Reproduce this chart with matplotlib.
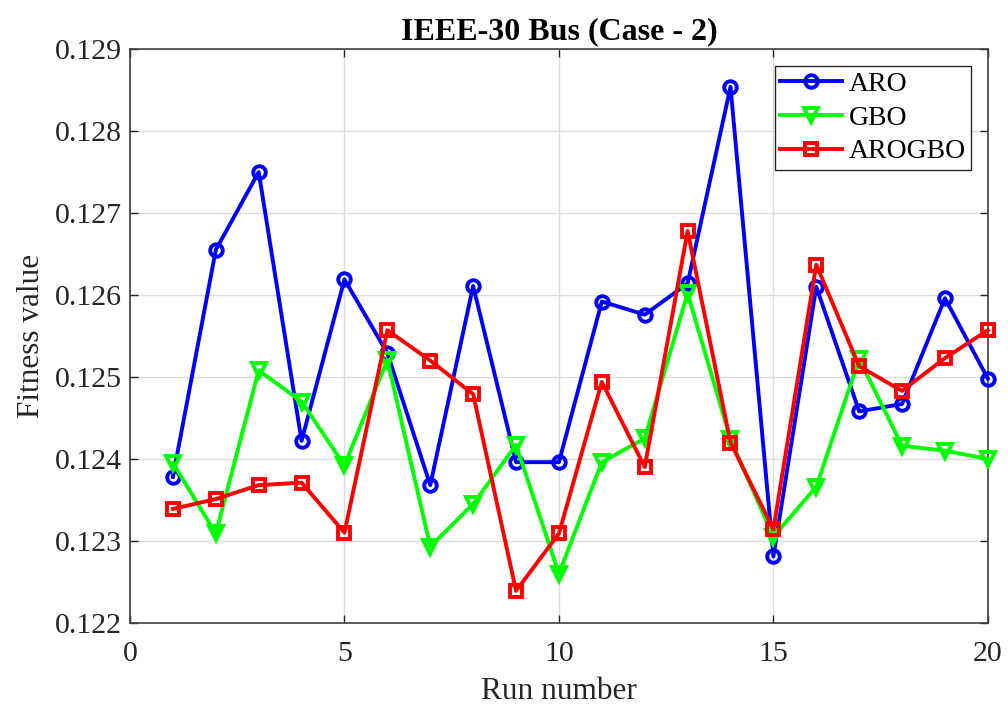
import matplotlib
matplotlib.use("Agg")
import matplotlib.pyplot as plt
import numpy as np

runs = list(range(1, 21))
aro = [0.12378, 0.12655, 0.12750, 0.12422, 0.12619, 0.12529, 0.12368, 0.12611, 0.12396, 0.12396,
       0.12592, 0.12576, 0.12614, 0.12854, 0.12281, 0.12610, 0.12458, 0.12467, 0.12596, 0.12498]
gbo = [0.12395, 0.12309, 0.12508, 0.12470, 0.12392, 0.12521, 0.12293, 0.12345, 0.12417, 0.12260,
       0.12396, 0.12425, 0.12602, 0.12424, 0.12305, 0.12366, 0.12522, 0.12416, 0.12410, 0.12400]
arogbo = [0.12339, 0.12351, 0.12368, 0.12371, 0.12310, 0.12557, 0.12520, 0.12479, 0.12239, 0.12309,
          0.12494, 0.12390, 0.12678, 0.12420, 0.12314, 0.12637, 0.12513, 0.12483, 0.12523, 0.12557]
xticks = [0, 5, 10, 15, 20]
yticks = [0.122, 0.123, 0.124, 0.125, 0.126, 0.127, 0.128, 0.129]

plt.rcParams['font.family'] = ['Liberation Serif', 'DejaVu Serif']

fig = plt.figure(figsize=(10.08, 7.11), dpi=100)
ax = fig.add_axes([0.129, 0.124, 0.851, 0.807])

lw = 2.8
ax.plot(runs, aro, color='#0000ff', lw=lw, marker='o', ms=9, mfc='none', mew=2.8, label='ARO', clip_on=False, zorder=3)
ax.plot(runs, gbo, color='#00ff00', lw=lw, marker='v', ms=10, mfc='none', mew=2.8, label='GBO', clip_on=False, zorder=3)
ax.plot(runs, arogbo, color='#ff0000', lw=lw, marker='s', ms=8, mfc='none', mew=2.8, label='AROGBO', clip_on=False, zorder=3)

ax.set_xlim(0, 20)
ax.set_ylim(0.122, 0.129)
ax.set_xticks(xticks)
ax.set_yticks(yticks)
ax.set_xticklabels([str(t) for t in xticks])
ax.set_yticklabels([f"{t:.3f}" for t in yticks])
ax.grid(True, color='#dcdcdc', lw=1)
ax.set_axisbelow(True)
ax.tick_params(direction='in', length=6, width=1, labelsize=21.5, colors='#262626',
               top=True, right=True)
ax.tick_params(axis='x', pad=13)
ax.tick_params(axis='y', pad=6)
for s in ax.spines.values():
    s.set_color('#404040')
    s.set_linewidth(1.2)

ax.set_xlabel('Run number', fontsize=22.5, color='#262626', labelpad=7)
ax.set_ylabel('Fitness value', fontsize=22.5, color='#262626', labelpad=6)
ax.set_title('IEEE-30 Bus (Case - 2)', fontsize=23, fontweight='bold', pad=7)

leg = ax.legend(loc='upper right', fontsize=20, frameon=True, fancybox=False,
                edgecolor='#262626', framealpha=1, borderaxespad=0.6,
                handlelength=2.2, labelspacing=0.3, borderpad=0.2, handletextpad=0.25)
leg.get_frame().set_linewidth(1)

fig.savefig('out.png', dpi=100)
